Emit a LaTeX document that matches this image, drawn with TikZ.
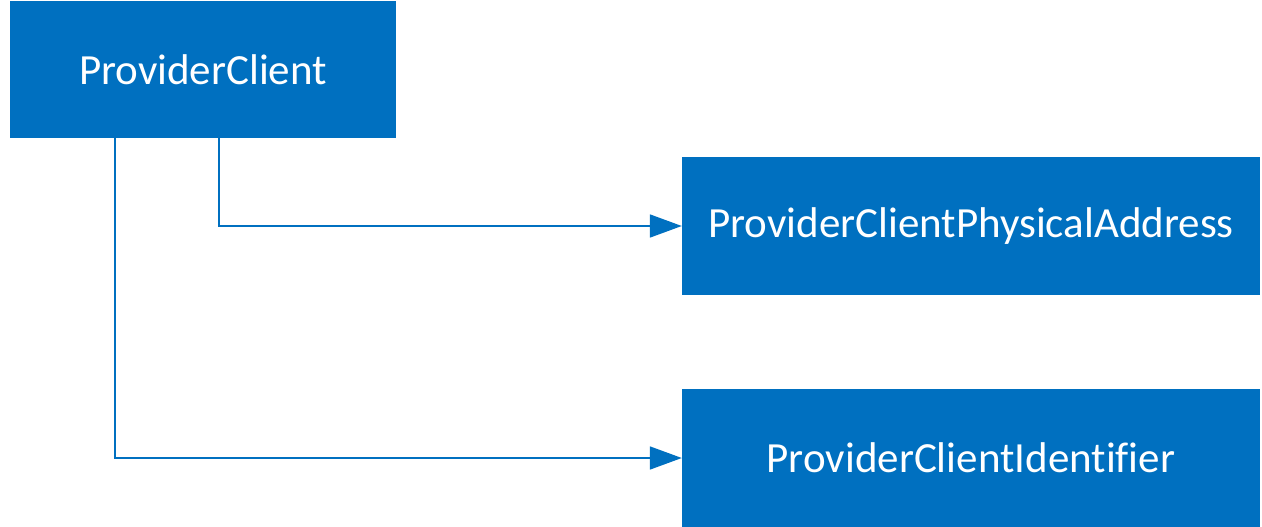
\documentclass[tikz,border=0pt]{standalone}
\usepackage{fontspec}
\setmainfont[Ligatures=NoCommon]{Carlito}
\usetikzlibrary{arrows.meta}
\definecolor{boxblue}{HTML}{0070C0}
\begin{document}
\begin{tikzpicture}[x=1pt,y=-1pt,
  box/.style={fill=boxblue,draw=none,text=white,font=\fontsize{43}{50}\selectfont,inner sep=0pt},
  conn/.style={draw=boxblue,line width=1.8pt,-{Triangle[length=32pt,width=23pt]}}]
\useasboundingbox (0,0) rectangle (1262,527);
\node[box,minimum width=386pt,minimum height=137pt] (pc) at (203,69.5) {ProviderClient};
\node[box,minimum width=578pt,minimum height=138pt] (pa) at (971,226) {ProviderClientPhysicalAddress};
\node[box,minimum width=578pt,minimum height=138pt] (pi) at (971,458) {ProviderClientIdentifier};
\draw[conn] ([xshift=209pt]pc.south west) |- (pa.west);
\draw[conn] ([xshift=105pt]pc.south west) |- (pi.west);
\end{tikzpicture}
\end{document}
